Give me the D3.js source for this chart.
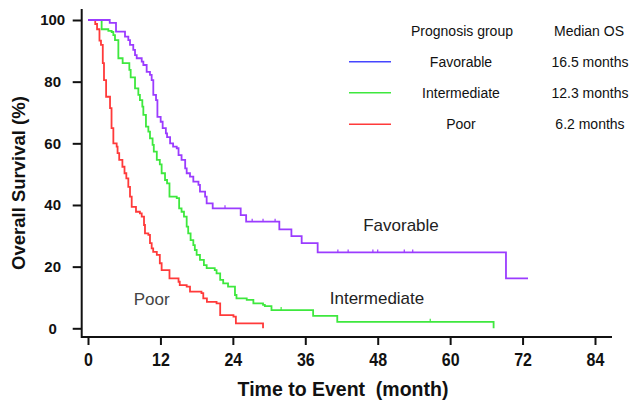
<!DOCTYPE html>
<html><head><meta charset="utf-8">
<script src="https://cdn.jsdelivr.net/npm/d3@7"></script>
<style>body{margin:0;background:#fff}svg{display:block}text{font-family:Arial,"Liberation Sans",sans-serif}</style>
</head><body><svg id="c" width="630" height="404"></svg>
<script>
// ---- data (time in months, survival in %) ----
const xTicks = [0, 12, 24, 36, 48, 60, 72, 84];
const yTicks = [0, 20, 40, 60, 80, 100];
const groups = ["Favorable", "Intermediate", "Poor"];
const medians = ["16.5 months", "12.3 months", "6.2 months"];
const favorable = [[0,100],[3.6,99.1],[4.64,96.2],[6.13,94.6],[6.68,93.5],[6.96,91.9],[7.5,90.3],[7.79,88.6],[8.07,87.6],[8.9,86.5],[9.17,85.4],[9.72,83.2],[10.27,82.2],[10.55,80.5],[10.82,75.7],[11.27,74],[11.5,68.6],[12.04,67],[12.37,64.9],[12.9,63.2],[13.1,62],[13.6,60],[14.1,58.9],[14.7,58.4],[15.0,56.2],[15.5,54.6],[16.1,51.9],[16.35,50.3],[16.9,49.2],[17.45,47.6],[18.3,46.5],[18.55,44.3],[19.4,42.7],[19.66,40.5],[20.66,38.9],[25.3,36.7],[26.2,34.6],[31.7,32.1],[33.7,29.9],[35.4,27.6],[38.05,24.6],[69.25,16.2],[72.9,16.2]];
const intermediate = [[0,100],[2.26,97],[3.37,96.5],[3.92,96.1],[4.2,95.1],[4.47,93.5],[5.03,87.6],[5.74,86],[6.85,83.8],[7.07,81.4],[7.79,77.8],[8.34,75.7],[8.6,74],[9.0,71.9],[9.17,69.2],[9.6,65.4],[10,63.8],[10.27,61.6],[10.7,59.5],[10.9,57.3],[11.4,54.6],[11.9,53.2],[12.2,50.3],[12.76,48.1],[13.1,47],[13.5,42.7],[14.7,42.2],[15.1,38.9],[15.5,37.8],[15.9,36.2],[16.35,33],[16.6,30.8],[17.0,28.6],[17.45,27],[17.7,25.4],[18.0,23.8],[18.55,22.2],[19.2,20.5],[19.66,19.5],[21.0,18.9],[21.3,17.8],[21.9,15.7],[22.4,14.6],[23.2,13.5],[24.35,10.8],[24.6,9.7],[26.3,9.2],[27.4,8.1],[29.0,7.6],[29.3,7.2],[30.4,5.9],[37.3,4.0],[41.3,2.1],[67.2,0]];
const poor = [[0,100],[1.2,98.7],[1.5,97],[1.9,93.3],[2.15,91.9],[2.45,86],[2.65,80.5],[3.0,75.1],[3.65,71.4],[3.9,64.9],[4.2,60],[4.75,58.9],[4.9,56.8],[5.17,54.6],[5.7,52.4],[6.05,50.3],[6.35,48.6],[6.68,45.9],[6.96,42.7],[7.24,39.4],[7.95,37.8],[8.6,37.3],[8.9,36.2],[9.28,33.5],[9.44,30.8],[10,30.3],[10.27,27.6],[10.55,25.9],[10.8,24.8],[11.4,23.8],[11.9,21.1],[12.2,18.9],[13.5,16.2],[15.0,15.1],[15.2,14],[16.35,13.5],[16.9,11.9],[18.8,11.4],[19.1,9.7],[19.7,8.6],[21.3,8.1],[21.9,4.3],[24.1,3.8],[24.5,1.6],[29,0]];
const favorableCensor = [22.7, 27.2, 29, 31, 41.4, 43.1, 47.2, 48, 52.4, 53.8];
const intermediateCensor = [32, 56.7];
const poorCensor = [];

const svg = d3.select("#c");
const x = d3.scaleLinear().domain([0, 84]).range([88, 595]);
const y = d3.scaleLinear().domain([0, 100]).range([328.3, 20]);

// axes
const ax = svg.append("g").attr("transform", "translate(0,337)")
  .call(d3.axisBottom(x).tickValues(xTicks).tickSize(8).tickSizeOuter(0));
ax.select(".domain").attr("d", "M82,0H612");
ax.selectAll("line,path").attr("stroke", "#111").attr("stroke-width", 2);
ax.selectAll("text").attr("font-size", 16).attr("font-weight", "bold").attr("fill", "#111")
  .attr("y", 0).attr("dy", 0).attr("transform", "translate(0,29) scale(1,1.14)");

const ay = svg.append("g").attr("transform", "translate(81.7,0)")
  .call(d3.axisLeft(y).tickValues(yTicks).tickSize(9).tickSizeOuter(0));
ay.select(".domain").attr("d", "M0,9V338");
ay.selectAll("line,path").attr("stroke", "#111").attr("stroke-width", 2);
ay.selectAll("text").attr("font-size", 15).attr("font-weight", "bold").attr("fill", "#111")
  .attr("text-anchor", "middle").attr("x", -29);

svg.append("text").attr("transform", "translate(343,396) scale(1,1.08)").attr("text-anchor", "middle")
  .style("white-space", "pre").attr("font-size", 19.5).attr("font-weight", "bold").attr("fill", "#111")
  .text("Time to Event  (month)");
svg.append("text").attr("transform", "translate(25,183) rotate(-90)").attr("text-anchor", "middle")
  .attr("font-size", 18.5).attr("font-weight", "bold").attr("fill", "#111").text("Overall Survival (%)");

// curves
const series = [
  {data: favorable, censor: favorableCensor, color: "#9b3cff"},
  {data: intermediate, censor: intermediateCensor, color: "#3ee83e"},
  {data: poor, censor: poorCensor, color: "#ff3a3a"}
];
const line = d3.line().x(d => x(d[0])).y(d => y(d[1])).curve(d3.curveStepAfter);
function survAt(data, t) { let s = data[0][1]; for (const d of data) { if (d[0] <= t) s = d[1]; } return s; }
series.slice().reverse().forEach(s => {
  svg.append("path").attr("d", line(s.data)).attr("fill", "none").attr("stroke", s.color).attr("stroke-width", 1.8);
  svg.selectAll(null).data(s.censor).enter().append("line")
    .attr("x1", d => x(d)).attr("x2", d => x(d))
    .attr("y1", d => y(survAt(s.data, d)) - 3).attr("y2", d => y(survAt(s.data, d)))
    .attr("stroke", s.color).attr("stroke-width", 1.2);
});

// curve labels
svg.append("text").attr("x", 401).attr("y", 230.7).attr("text-anchor", "middle").attr("font-size", 17).attr("fill", "#222").text(groups[0]);
svg.append("text").attr("x", 377).attr("y", 304).attr("text-anchor", "middle").attr("font-size", 17).attr("fill", "#222").text(groups[1]);
svg.append("text").attr("x", 151.7).attr("y", 305).attr("text-anchor", "middle").attr("font-size", 17).attr("fill", "#444").text(groups[2]);

// legend
const legColors = ["#4646ff", "#3ee83e", "#ff3a3a"];
const legY = [61.7, 92.7, 124.3];
svg.append("text").attr("x", 462).attr("y", 36).attr("text-anchor", "middle").attr("font-size", 14).attr("fill", "#111").text("Prognosis group");
svg.append("text").attr("x", 589).attr("y", 36).attr("text-anchor", "middle").attr("font-size", 14).attr("fill", "#111").text("Median OS");
groups.forEach((g, i) => {
  svg.append("line").attr("x1", 349).attr("x2", 391).attr("y1", legY[i]).attr("y2", legY[i]).attr("stroke", legColors[i]).attr("stroke-width", 1.5);
  svg.append("text").attr("x", 461).attr("y", legY[i] + 5).attr("text-anchor", "middle").attr("font-size", 14).attr("fill", "#111").text(g);
  svg.append("text").attr("x", 590).attr("y", legY[i] + 5).attr("text-anchor", "middle").attr("font-size", 14).attr("fill", "#111").text(medians[i]);
});
</script></body></html>
